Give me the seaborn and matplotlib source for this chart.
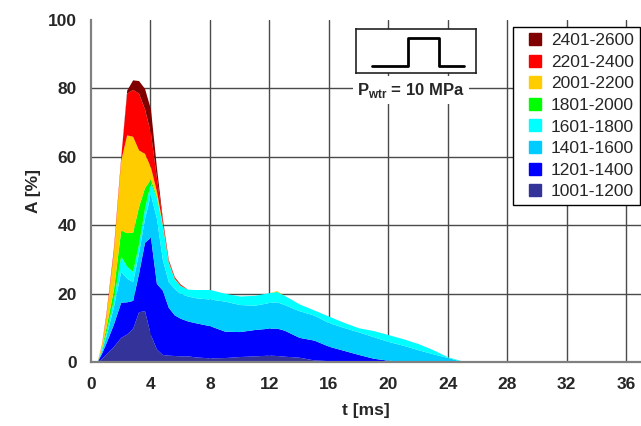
import numpy as np
import matplotlib
matplotlib.use("Agg")
import matplotlib.pyplot as plt
import seaborn as sns
from matplotlib.lines import Line2D

# ---------------- data ----------------
t_ms = [0, 0.4, 0.7, 1.0, 1.5, 2.0, 2.4, 2.8, 3.2, 3.6,
        4.0, 4.4, 4.8, 5.2, 5.6, 6.0, 6.5, 7, 8, 9,
        10, 11, 12, 12.5, 13, 14, 15, 16, 17, 18,
        19, 20, 21, 22, 23, 24, 25, 25.5, 26]

a_1001_1200 = [0, 0, 1.0, 2.3, 4.5, 7.2, 8.2, 9.8, 14.7, 15.0,
               8.0, 3.8, 2.2, 2.0, 1.9, 1.8, 1.8, 1.5, 1.2, 1.3,
               1.6, 1.8, 2.0, 1.9, 1.7, 1.4, 0.6, 0.4, 0.3, 0.3,
               0.2, 0.2, 0.1, 0, 0, 0, 0, 0, 0]
a_1201_1400 = [0, 0, 1.5, 3.2, 6.5, 10.3, 9.4, 8.2, 11.3, 20.0,
               28.5, 19.2, 18.8, 14.0, 11.9, 11.0, 10.2, 10.0, 9.4, 7.7,
               7.3, 7.7, 7.9, 8.0, 7.6, 5.8, 5.8, 4.2, 3.1, 1.9,
               0.9, 0.3, 0.2, 0.1, 0, 0, 0, 0, 0]
a_1401_1600 = [0, 0, 0.7, 2.0, 5.0, 9.0, 6.9, 5.5, 6.0, 7.0,
               12.5, 19.0, 9.0, 7.5, 7.7, 7.2, 7.3, 7.3, 7.8, 8.8,
               7.9, 7.1, 7.5, 7.7, 7.5, 7.8, 7.3, 6.9, 6.7, 6.6,
               6.3, 5.5, 4.6, 3.5, 2.4, 1.3, 0.1, 0, 0]
a_1601_1800 = [0, 0, 0.4, 1.0, 2.0, 4.5, 3.5, 3.0, 2.5, 3.0,
               3.5, 6.0, 10.0, 5.5, 2.8, 2.3, 2.0, 2.4, 2.8, 2.3,
               2.5, 2.9, 2.9, 3.0, 2.7, 2.0, 1.5, 1.9, 1.5, 1.2,
               1.8, 2.0, 1.9, 1.8, 1.2, 0.2, 0.2, 0, 0]
a_1801_2000 = [0, 0, 0.4, 1.5, 3.0, 7.6, 9.8, 11.5, 11.0, 6.0,
               1.0, 0.5, 0.2, 0.1, 0.1, 0, 0, 0, 0, 0,
               0, 0, 0, 0.1, 0, 0, 0, 0, 0, 0,
               0, 0, 0, 0, 0, 0, 0, 0, 0]
a_2001_2200 = [0, 0, 1.0, 3.3, 11.0, 20.4, 28.6, 28.0, 16.5, 10.0,
               3.5, 1.5, 0.3, 0.2, 0.1, 0.1, 0, 0, 0, 0,
               0, 0, 0, 0.2, 0, 0, 0, 0, 0, 0,
               0, 0, 0, 0, 0, 0, 0, 0, 0]
a_2201_2400 = [0, 0, 0.2, 0.7, 1.0, 1.0, 12.2, 13.7, 16.6, 13.0,
               10.0, 4.0, 1.0, 0.5, 0.3, 0.2, 0, 0, 0, 0,
               0, 0, 0, 0, 0, 0, 0, 0, 0, 0,
               0, 0, 0, 0, 0, 0, 0, 0, 0]
a_2401_2600 = [0, 0, 0, 0, 0, 0, 0.9, 2.8, 3.7, 6.0,
               7.0, 3.0, 0.5, 0.2, 0.2, 0.2, 0, 0, 0, 0,
               0, 0, 0, 0, 0, 0, 0, 0, 0, 0,
               0, 0, 0, 0, 0, 0, 0, 0, 0]

labels = ["1001-1200", "1201-1400", "1401-1600", "1601-1800",
          "1801-2000", "2001-2200", "2201-2400", "2401-2600"]
colors = ["#333399", "#0000FF", "#00CCFF", "#00FFFF",
          "#00FF00", "#FFCC00", "#FF0000", "#800000"]

x_ticks = [0, 4, 8, 12, 16, 20, 24, 28, 32, 36]
y_ticks = [0, 20, 40, 60, 80, 100]

pulse_x = [0, 1.2, 1.2, 2.23, 2.23, 3.07]
pulse_y = [0, 0, 1, 1, 0, 0]

# ---------------- style ----------------
sns.set_theme(style="white")
plt.rcParams["font.family"] = ["Liberation Sans", "DejaVu Sans"]
plt.rcParams["mathtext.fontset"] = "custom"
plt.rcParams["mathtext.rm"] = "Liberation Sans"
plt.rcParams["mathtext.bf"] = "Liberation Sans:bold"

W, H = 641, 426
fig = plt.figure(figsize=(W / 100, H / 100), dpi=100)
ax = fig.add_axes([91 / W, 64 / H, 550 / W, 342 / H])

series = [a_1001_1200, a_1201_1400, a_1401_1600, a_1601_1800,
          a_1801_2000, a_2001_2200, a_2201_2400, a_2401_2600]
polys = ax.stackplot(t_ms, *series, colors=colors, labels=labels,
                     linewidth=0, zorder=2)

ax.set_xlim(0, 37)
ax.set_ylim(0, 100)
ax.set_xticks(x_ticks)
ax.set_yticks(y_ticks)

grid_c = "#4a4a4a"
for xv in x_ticks[1:]:
    ax.axvline(xv, color=grid_c, lw=1.0, zorder=1)
for yv in y_ticks[1:-1]:
    ax.axhline(yv, color=grid_c, lw=1.0, zorder=1)

for s in ["top", "right"]:
    ax.spines[s].set_visible(False)
for s in ["left", "bottom"]:
    ax.spines[s].set_color("#808080")
    ax.spines[s].set_linewidth(1.6)
    ax.spines[s].set_zorder(3)

ax.tick_params(axis="x", direction="out", length=4, width=1, color="#808080",
               pad=7, labelsize=12.5)
ax.tick_params(axis="y", direction="in", length=6, width=1, color="#404040",
               pad=10, labelsize=12.5)
for lab in ax.get_xticklabels() + ax.get_yticklabels():
    lab.set_fontweight("bold")

ax.set_xlabel("t [ms]", fontsize=12.5, fontweight="bold", labelpad=8)
ax.set_ylabel("A [%]", fontsize=12.5, fontweight="bold", labelpad=5)

# legend
handles = [Line2D([], [], marker="s", linestyle="none", markersize=9,
                  markerfacecolor=c, markeredgecolor=c) for c in colors]
leg = fig.legend(handles[::-1], labels[::-1], loc="upper right",
                 bbox_to_anchor=(640 / W, 1 - 27 / H),
                 bbox_transform=fig.transFigure, borderaxespad=0,
                 fontsize=12.5, frameon=True, fancybox=False, framealpha=1,
                 edgecolor="black", borderpad=0.35, handlelength=1.8,
                 handletextpad=0.0, labelspacing=0.37)
leg.get_frame().set_linewidth(1.0)

# inset pulse schematic
iax = fig.add_axes([356 / W, 1 - 73 / H, 120 / W, 44 / H])
iax.set_facecolor("white")
iax.plot(pulse_x, pulse_y, color="black", lw=2)
iax.set_xlim(-0.53, 3.47)
iax.set_ylim(-0.25, 1.32)
iax.set_xticks([])
iax.set_yticks([])
for s in iax.spines.values():
    s.set_color("#222222")
    s.set_linewidth(1.2)

fig.text(411 / W, 1 - 90 / H, r"P$_{\mathbf{wtr}}$ = 10 MPa", ha="center",
         va="center", fontsize=12, fontweight="bold",
         bbox=dict(facecolor="white", edgecolor="none", pad=3))

fig.savefig("out.png", dpi=100)
